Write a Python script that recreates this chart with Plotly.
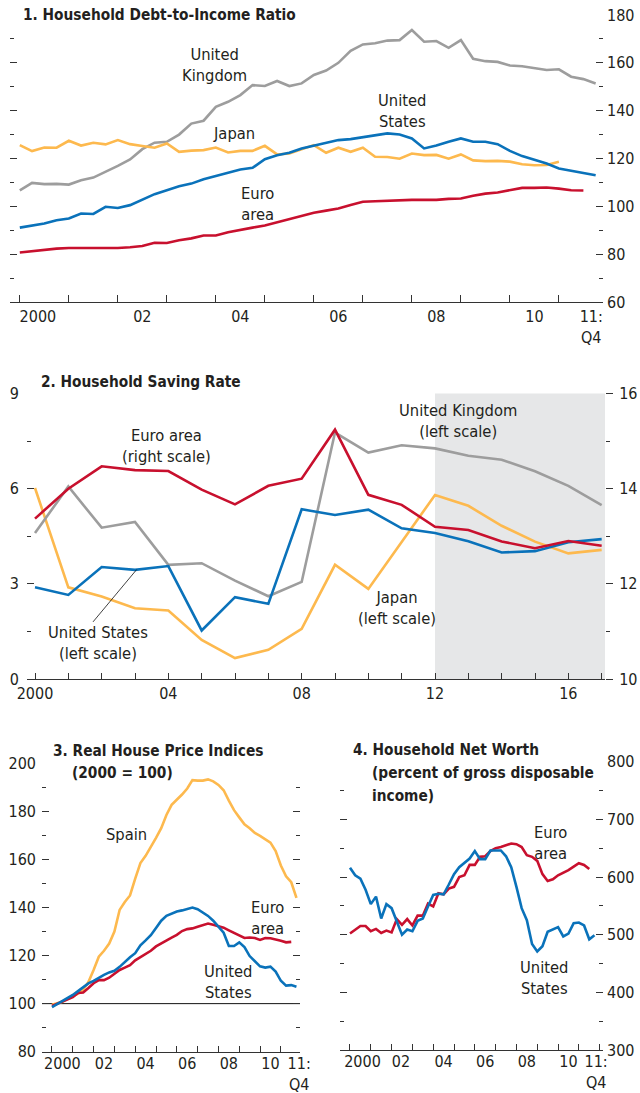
import plotly.graph_objects as go

# ---------------- data ----------------
# Panel 1: Household debt-to-income ratio, quarterly from 2000Q1
debt_uk = [106.7,109.8,109.3,109.4,109.1,110.9,112.0,114.4,116.9,119.6,
           123.9,126.6,127.0,130.0,134.6,135.8,141.6,143.7,146.5,150.7,
           150.3,152.4,150.3,151.4,154.9,156.8,160.0,165.0,167.7,168.2,
           169.3,169.5,173.7,168.8,169.1,166.3,169.5,161.7,160.7,160.4,
           158.9,158.6,157.7,157.0,157.3,154.2,153.2,151.4]
debt_us = [91.1,91.8,92.8,94.2,94.9,97.0,96.8,99.8,99.3,100.5,102.8,105.1,106.7,
           108.4,109.5,111.3,112.7,114.1,115.4,116.1,119.7,121.4,122.4,124.2,125.4,
           126.6,127.7,128.1,128.8,129.8,130.5,130.0,128.4,124.2,125.4,127.0,128.4,
           127.0,127.0,126.0,123.2,121.0,119.3,117.9,115.8,114.8,113.7,113.0]
debt_jp = [125.6,123.1,124.6,124.5,127.4,125.4,126.6,125.9,127.7,126.0,125.2,124.5,
           126.3,122.8,123.3,123.5,124.6,122.5,123.2,123.2,125.3,121.7,122.1,123.8,
           125.6,122.4,124.5,122.8,124.5,120.7,120.6,119.9,122.1,121.4,121.5,119.9,
           121.7,119.2,118.9,119.0,118.7,117.6,117.2,117.3,118.6]
debt_ea = [80.7,81.3,81.8,82.3,82.6,82.6,82.6,82.5,82.6,82.9,83.4,84.8,84.7,85.8,
           86.6,87.8,87.8,89.2,90.0,91.1,92.0,93.3,94.6,96.1,97.3,98.2,99.1,100.6,
           101.9,102.1,102.4,102.7,102.7,102.7,102.7,103.1,103.3,104.4,105.3,105.8,
           106.7,107.7,107.7,107.9,107.4,106.7,106.6]

# Panel 2: Household saving rate, annual 2000-2017
sav_years = list(range(2000, 2018))
sav_us = [2.89,2.65,3.53,3.44,3.56,1.53,2.58,2.37,5.35,5.17,5.34,4.75,4.60,4.34,3.99,4.03,4.31,4.41]
sav_uk = [4.60,6.07,4.77,4.95,3.60,3.65,3.10,2.61,3.06,7.77,7.14,7.37,7.27,7.04,6.91,6.55,6.09,5.48]
sav_jp = [6.02,2.89,2.60,2.23,2.16,1.23,0.66,0.92,1.58,3.60,2.84,4.31,5.80,5.46,4.83,4.33,3.96,4.07]
sav_ea = [13.37,14.00,14.47,14.39,14.37,13.98,13.67,14.06,14.21,15.24,13.87,13.66,13.20,13.13,12.89,12.75,12.90,12.80]
projection_start = 2012

# Panel 3: Real house price indices (2000 = 100), quarterly from 2000Q1
hp_es = [99.5,100.2,100.8,102.0,103.2,104.2,105.8,109.0,114.0,119.5,
         122.0,125.0,130.0,139.0,142.3,145.0,152.0,158.5,161.5,165.0,
         169.0,173.0,178.5,182.7,184.7,187.0,189.5,193.0,192.8,192.8,
         193.3,192.5,191.0,188.8,184.5,180.5,177.5,174.6,173.0,171.0,
         169.8,168.5,167.0,163.5,157.5,153.0,150.5,144.0]
hp_ea = [99.0,100.0,101.0,102.0,102.7,104.4,104.6,106.5,108.5,109.8,
         109.8,110.8,112.5,114.0,115.0,116.0,118.0,119.3,120.5,122.0,
         123.8,125.1,126.3,127.5,128.6,130.2,131.0,131.3,132.0,132.8,
         133.3,132.8,132.3,131.6,130.5,129.5,128.3,127.3,127.5,127.3,
         126.5,127.3,127.2,126.8,126.2,125.5,125.7]
hp_us = [98.5,99.7,101.2,102.4,103.6,105.2,106.8,108.4,109.5,110.8,
         112.0,113.0,113.7,115.3,117.5,119.3,121.0,124.3,126.3,128.5,
         131.5,134.5,136.5,137.5,138.3,138.8,139.3,140.0,139.3,138.0,
         136.5,134.5,132.0,129.5,124.0,124.0,125.5,123.5,119.8,117.5,
         115.5,115.0,115.4,113.3,109.5,107.5,107.7,107.0]
hp_base = 100

# Panel 4: Household net worth (% of gross disposable income), quarterly from 2000Q1
nw_ea = [502,509,515,515,506,510,503,507,504,527,517,527,516,533,533,554,549,572,570,580,
         583,600,603,621,621,635,636,645,650,652,655,658,657,652,638,635,628,605,593,596,
         603,607,612,618,624,621,614]
nw_us = [616,603,597,578,553,566,528,553,546,524,500,509,506,524,528,549,569,571,570,587,
         605,617,625,632,645,631,631,646,646,646,636,617,583,546,525,484,471,480,505,509,
         513,497,502,520,521,516,492,499]

# tick labels
p1_tickvals = [2000.37, 2002.5, 2004.5, 2006.5, 2008.5, 2010.5, 2011.66]
p1_ticktext = ["2000", "02", "04", "06", "08", "10", "11:<br>Q4"]
p2_tickvals = [2000, 2004, 2008, 2012, 2016]
p2_ticktext = ["2000", "04", "08", "12", "16"]
p3_tickvals = [2000.5, 2002.5, 2004.5, 2006.5, 2008.5, 2010.5, 2011.88]
p4_tickvals = [2000.6, 2002.45, 2004.5, 2006.5, 2008.5, 2010.5, 2011.83]
p34_ticktext = ["2000", "02", "04", "06", "08", "10", "11:<br>Q4"]


def qx(series):
    return [2000 + i / 4 for i in range(len(series))]


# ---------------- style ----------------
W, H = 640, 1093
BLUE = "#0A72BA"
RED = "#C8102E"
GRAY = "#9D9D9D"
ORANGE = "#FDB94E"
TXT = "#231F20"
SHADE = "#E6E7E8"
FONT = "DejaVu Sans Condensed, Liberation Sans Narrow, Arial Narrow, sans-serif"
TICK_SIZE = 16
LABEL_SIZE = 16.4
TITLE_SIZE = 15.3
LW = 2.6
AX = "#333333"


def px_x(x):
    return x / W


def px_y(y):
    return 1 - y / H


fig = go.Figure()


def line(x, y, color, xa, ya):
    fig.add_trace(go.Scatter(x=x, y=y, mode="lines", xaxis=xa, yaxis=ya,
                             line=dict(color=color, width=LW), hoverinfo="skip",
                             showlegend=False))


# panel 1
line(qx(debt_uk), debt_uk, GRAY, "x", "y")
line(qx(debt_jp), debt_jp, ORANGE, "x", "y")
line(qx(debt_ea), debt_ea, RED, "x", "y")
line(qx(debt_us), debt_us, BLUE, "x", "y")
# panel 2
line(sav_years, sav_jp, ORANGE, "x2", "y2")
line(sav_years, sav_uk, GRAY, "x2", "y2")
line(sav_years, sav_us, BLUE, "x2", "y2")
line(sav_years, sav_ea, RED, "x2", "y3")
# panel 3
line(qx(hp_es), hp_es, ORANGE, "x3", "y4")
line(qx(hp_ea), hp_ea, RED, "x3", "y4")
line(qx(hp_us), hp_us, BLUE, "x3", "y4")
# panel 4
line(qx(nw_ea), nw_ea, RED, "x4", "y5")
line(qx(nw_us), nw_us, BLUE, "x4", "y5")

tickfont = dict(family=FONT, size=TICK_SIZE, color=TXT)


def xaxis(domain, rng, tickvals, ticktext, anchor, minor_len=7, standoff=0):
    return dict(domain=domain, range=rng, anchor=anchor, tickmode="array", automargin=False,
                tickvals=tickvals, ticktext=ticktext, ticks="", ticklen=minor_len,
                tickcolor=AX, tickwidth=1.1, ticklabelstandoff=standoff,
                showline=True, linecolor=AX, linewidth=1.3, showgrid=False,
                zeroline=False, tickfont=tickfont,
                minor=dict(tickmode="linear", tick0=2000, dtick=1, ticks="inside",
                           ticklen=minor_len, tickcolor=AX, tickwidth=1.1, showgrid=False))


def yaxis(domain, rng, dtick, anchor, side, ticks="inside", mirror="ticks",
          showlabels=True, standoff=3, **kw):
    d = dict(domain=domain, range=rng, anchor=anchor, side=side, tickmode="linear",
             automargin=False,
             tick0=rng[0], dtick=dtick, ticks=ticks, ticklen=7, tickcolor=AX, tickwidth=1.1,
             mirror=mirror, showline=False, showgrid=False, zeroline=False,
             showticklabels=showlabels, tickfont=tickfont, ticklabelstandoff=standoff,
             minor=dict(tickmode="linear", tick0=rng[0], dtick=dtick / 2, ticks=ticks,
                        ticklen=4, tickcolor=AX, tickwidth=1.1, showgrid=False))
    d.update(kw)
    return d


# panel pixel boxes
p1 = dict(x=(10, 603), y=(302, 15))
p2 = dict(x=(27, 605), y=(679, 393.5))
p3 = dict(x=(42, 300), y=(1051.7, 763.3))
p4 = dict(x=(340, 603), y=(1050, 761.7))


def dom_x(p):
    return [px_x(p["x"][0]), px_x(p["x"][1])]


def dom_y(p):
    return [px_y(p["y"][0]), px_y(p["y"][1])]


x2_range = [1999.76, 2017.1]

fig.update_layout(
    width=W, height=H, margin=dict(l=0, r=0, t=0, b=0, autoexpand=False),
    paper_bgcolor="white", plot_bgcolor="rgba(0,0,0,0)",
    font=dict(family=FONT, size=LABEL_SIZE, color=TXT),
    xaxis=xaxis(dom_x(p1), [1999.8, 2011.9], p1_tickvals, p1_ticktext, "y"),
    yaxis=yaxis(dom_y(p1), [60, 180], 20, "x", "right"),
    xaxis2=dict(domain=dom_x(p2), range=x2_range, anchor="y2", tickmode="array", automargin=False,
                tickvals=p2_tickvals, ticktext=p2_ticktext, ticks="inside", ticklen=6,
                tickcolor=AX, tickwidth=1.1, showline=True, linecolor=AX, linewidth=1.3,
                showgrid=False, zeroline=False, tickfont=tickfont,
                minor=dict(tickmode="linear", tick0=2000, dtick=1, ticks="inside",
                           ticklen=6, tickcolor=AX, tickwidth=1.1, showgrid=False)),
    yaxis2=yaxis(dom_y(p2), [0, 9], 3, "x2", "left", mirror=False, standoff=7),
    yaxis3=yaxis(dom_y(p2), [10, 16], 2, "x2", "right", ticks="outside", mirror=False,
                 overlaying="y2", standoff=3),
    xaxis3=xaxis(dom_x(p3), [1999.52, 2011.92], p3_tickvals, p34_ticktext, "y4",
                 minor_len=6, standoff=-3),
    yaxis4=yaxis(dom_y(p3), [80, 200], 20, "x3", "left", standoff=5),
    xaxis4=xaxis(dom_x(p4), [1999.52, 2012.16], p4_tickvals, p34_ticktext, "y5",
                 minor_len=6, standoff=-3),
    yaxis5=yaxis(dom_y(p4), [300, 800], 100, "x4", "right", standoff=3),
)

# shaded projection period in panel 2
fig.add_shape(type="rect", xref="x2", yref="y2 domain", x0=projection_start, x1=x2_range[1],
              y0=0, y1=1, fillcolor=SHADE, line=dict(width=0), layer="below")
# base line at 100 in panel 3
fig.add_shape(type="line", xref="x3 domain", yref="y4", x0=0, x1=1, y0=hp_base, y1=hp_base,
              line=dict(color="#111111", width=1), layer="below")
# leader line for "United States" label in panel 2
fig.add_shape(type="line", xref="x2", yref="y2", x0=2001.74, y0=1.80, x1=2003.05, y1=3.45,
              line=dict(color="#111111", width=0.8))


def note(text, x, y, xref, yref, size=LABEL_SIZE, bold=False, anchor="center"):
    fig.add_annotation(text=f"<b>{text}</b>" if bold else text, x=x, y=y, xref=xref, yref=yref,
                       showarrow=False, xanchor=anchor, yanchor="middle", borderpad=0,
                       font=dict(family=FONT, size=size, color=TXT), align="center")


def title(text, x, y):
    note(text, px_x(x), px_y(y), "paper", "paper", size=TITLE_SIZE, bold=True, anchor="left")


# titles
title("1. Household Debt-to-Income Ratio", 22, 15)
title("2. Household Saving Rate", 40, 382)
title("3. Real House Price Indices", 52, 751)
title("(2000 = 100)", 71, 773)
title("4. Household Net Worth", 352, 750)
title("(percent of gross disposable", 371, 773)
title("income)", 371, 796)

# series labels
note("United<br>Kingdom", 2003.98, 158.9, "x", "y")
note("Japan", 2004.37, 130.65, "x", "y")
note("Euro<br>area", 2004.86, 100.97, "x", "y")
note("United<br>States", 2007.8, 140.06, "x", "y")

note("Euro area<br>(right scale)", 2003.93, 7.35, "x2", "y2")
note("United States<br>(left scale)", 2001.89, 1.14, "x2", "y2")
note("United Kingdom<br>(left scale)", 2012.7, 8.14, "x2", "y2")
note("Japan<br>(left scale)", 2010.87, 2.24, "x2", "y2")

note("Spain", 2003.56, 170.2, "x3", "y4")
note("Euro<br>area", 2010.38, 135.7, "x3", "y4")
note("United<br>States", 2008.46, 108.8, "x3", "y4")

note("Euro<br>area", 2009.62, 659, "x4", "y5")
note("United<br>States", 2009.33, 424.9, "x4", "y5")

# the page's default body margin would shift the figure by 8 px
fig.write_html("out.html", config={"displayModeBar": False},
               post_script="document.body.style.margin='0';document.body.style.overflow='hidden';")
